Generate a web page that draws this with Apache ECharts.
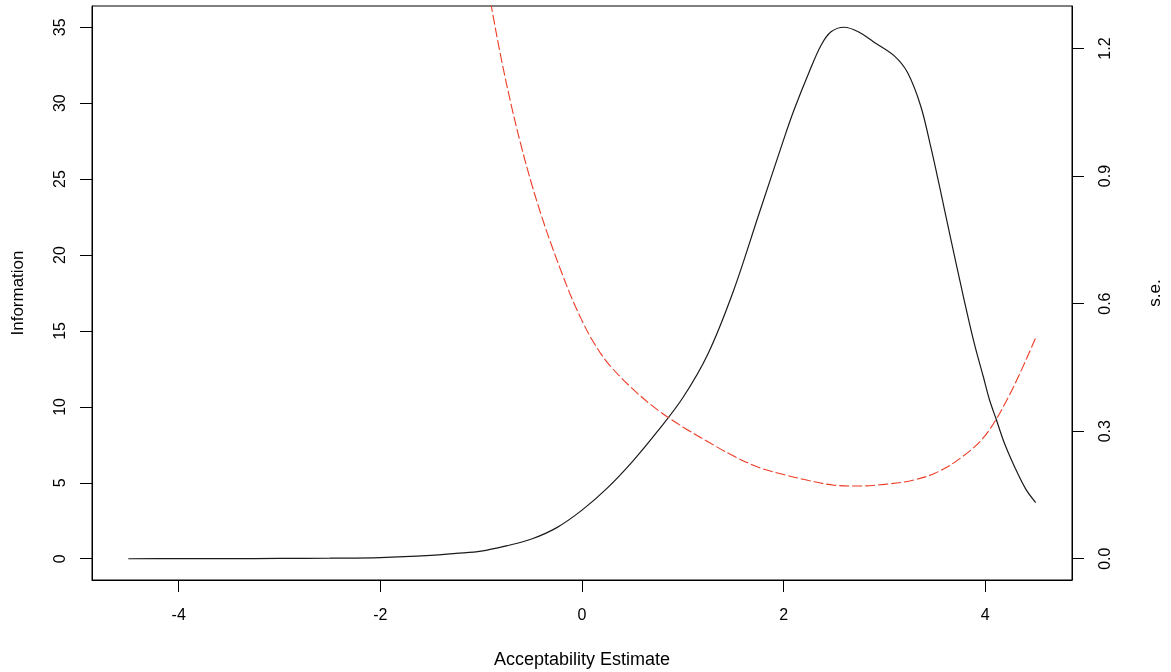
<!DOCTYPE html>
<html>
<head>
<meta charset="utf-8">
<script src="https://cdn.jsdelivr.net/npm/echarts@6/dist/echarts.min.js"></script>
<style>
  html, body { margin: 0; padding: 0; background: #ffffff; }
  #chart { width: 1171px; height: 672px; }
</style>
</head>
<body>
<div id="chart"></div>
<script>
// Test information curve (left axis)
const infoTheta = [-4.5, -4.0, -3.5, -3.0, -2.5, -2.0, -1.5, -1.25, -1.0, -0.75, -0.5, -0.25, 0.0, 0.25, 0.5, 0.75, 1.0, 1.25, 1.5, 1.75, 2.0, 2.1, 2.25, 2.37, 2.47, 2.6, 2.74, 2.9, 3.1, 3.23, 3.36, 3.46, 3.55, 3.65, 3.79, 3.89, 3.98, 4.04, 4.11, 4.19, 4.29, 4.4, 4.5];
const infoValues = [0.0, 0.005, 0.01, 0.02, 0.04, 0.08, 0.22, 0.35, 0.5, 0.85, 1.3, 2.05, 3.2, 4.65, 6.4, 8.4, 10.6, 13.5, 17.6, 22.6, 27.6, 29.5, 32.0, 33.8, 34.7, 35.0, 34.7, 34.0, 33.1, 32.0, 29.8, 27.1, 24.4, 21.3, 17.05, 14.2, 12.0, 10.5, 9.15, 7.6, 6.06, 4.6, 3.7];

// Standard error curve (right axis)
const seTheta = [-1.0, -0.9, -0.8, -0.7, -0.6, -0.5, -0.4, -0.3, -0.2, -0.1, 0.0, 0.1, 0.25, 0.5, 0.75, 1.0, 1.25, 1.5, 1.75, 2.0, 2.25, 2.5, 2.75, 3.0, 3.25, 3.5, 3.75, 4.0, 4.25, 4.5];
const seValues = [1.43, 1.30, 1.175, 1.065, 0.968, 0.882, 0.805, 0.736, 0.672, 0.612, 0.560, 0.515, 0.462, 0.40, 0.35, 0.31, 0.275, 0.242, 0.215, 0.198, 0.184, 0.173, 0.171, 0.175, 0.183, 0.201, 0.236, 0.29, 0.39, 0.52];

// Tick labels
const xTicks = [-4, -2, 0, 2, 4];
const infoTicks = [0, 5, 10, 15, 20, 25, 30, 35];
const seTicks = [0, 0.3, 0.6, 0.9, 1.2];

const FONT = "'Liberation Sans', Arial, sans-serif";

const chart = echarts.init(document.getElementById('chart'), null, { renderer: 'canvas' });
chart.setOption({
  animation: false,
  backgroundColor: '#ffffff',
  grid: {
    left: 92, right: 99, top: 6, bottom: 92,
    outerBoundsMode: 'none',
    containLabel: false,
    show: true, borderColor: '#000', borderWidth: 1, backgroundColor: 'transparent'
  },
  xAxis: {
    type: 'value',
    min: -4.86, max: 4.86,
    splitLine: { show: false },
    axisLine: { show: true, onZero: false, lineStyle: { color: '#000', width: 1 } },
    axisTick: { show: true, inside: false, length: 12, customValues: xTicks, lineStyle: { color: '#000' } },
    axisLabel: { customValues: xTicks, fontSize: 16, fontFamily: FONT, color: '#000', margin: 28 },
    name: 'Acceptability Estimate',
    nameLocation: 'middle',
    nameGap: 71,
    nameTextStyle: { fontSize: 18, fontFamily: FONT, color: '#000' }
  },
  yAxis: [
    {
      type: 'value',
      position: 'left',
      min: -1.4, max: 36.4,
      splitLine: { show: false },
      axisLine: { show: true, onZero: false, lineStyle: { color: '#000', width: 1 } },
      axisTick: { show: true, inside: false, length: 12, customValues: infoTicks, lineStyle: { color: '#000' } },
      axisLabel: { customValues: infoTicks, rotate: 90, fontSize: 16, fontFamily: FONT, color: '#000', margin: 23 },
      name: 'Information',
      nameLocation: 'middle',
      nameGap: 65,
      nameRotate: 90,
      nameTextStyle: { fontSize: 17, fontFamily: FONT, color: '#000' }
    },
    {
      type: 'value',
      position: 'right',
      min: -0.05, max: 1.30,
      splitLine: { show: false },
      axisLine: { show: true, onZero: false, lineStyle: { color: '#000', width: 1 } },
      axisTick: { show: true, inside: false, length: 12, customValues: seTicks, lineStyle: { color: '#000' } },
      axisLabel: {
        customValues: seTicks, rotate: 90, fontSize: 16, fontFamily: FONT, color: '#000', margin: 26,
        formatter: v => Number(v).toFixed(1)
      },
      name: 's.e.',
      nameLocation: 'middle',
      nameGap: 75,
      nameRotate: 90,
      nameTextStyle: { fontSize: 17, fontFamily: FONT, color: '#000' }
    }
  ],
  series: [
    {
      name: 'Information',
      type: 'line',
      yAxisIndex: 0,
      data: infoTheta.map((t, i) => [t, infoValues[i]]),
      showSymbol: false,
      smooth: 0.35,
      clip: true,
      lineStyle: { color: '#1a1a1a', width: 1.2 }
    },
    {
      name: 's.e.',
      type: 'line',
      yAxisIndex: 1,
      data: seTheta.map((t, i) => [t, seValues[i]]),
      showSymbol: false,
      smooth: 0.35,
      clip: true,
      lineStyle: { color: '#ee3a24', width: 1.1, type: [10, 3] }
    }
  ]
});
</script>
</body>
</html>
